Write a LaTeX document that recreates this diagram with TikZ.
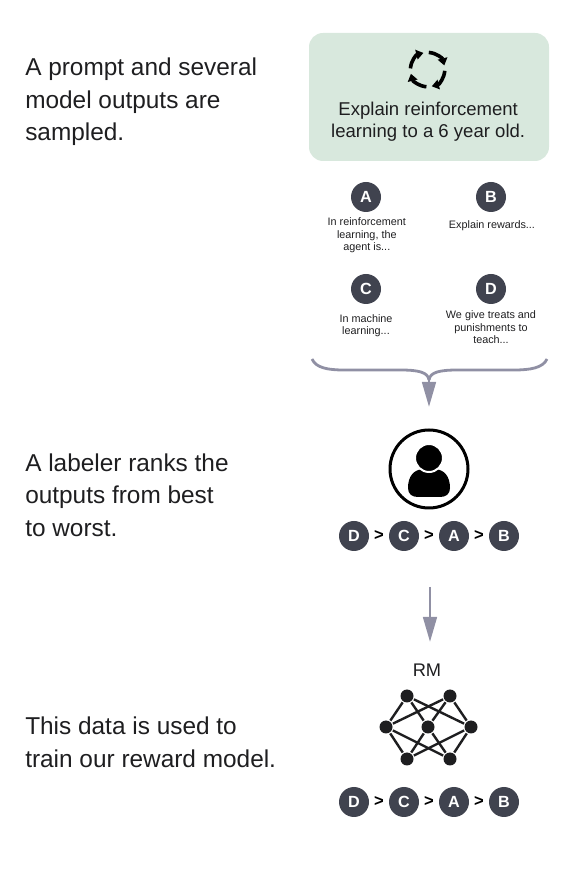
\documentclass[tikz,border=0pt]{standalone}
\usepackage{fontspec}
\setmainfont{Liberation Sans}
\usetikzlibrary{arrows.meta}
\definecolor{promptgreen}{HTML}{D8E8DD}
\definecolor{badgegray}{HTML}{40434F}
\definecolor{flowgray}{HTML}{9090A4}
\definecolor{inkblack}{HTML}{1E1E20}
\begin{document}
\begin{tikzpicture}[
  sidetext/.style={
    anchor=west, align=left, text=inkblack, inner sep=0pt,
    font=\fontsize{17.35}{23}\selectfont
  },
  promptbox/.style={
    fill=promptgreen, rounded corners=0.35cm,
    minimum width=6cm, minimum height=3.2cm
  },
  prompttext/.style={
    align=center, text=inkblack, inner sep=0pt,
    font=\fontsize{13.2}{15.6}\selectfont
  },
  badge/.style={
    circle, fill=badgegray, minimum size=0.75cm, inner sep=0pt,
    text=white, font=\fontsize{11.5}{12}\selectfont\bfseries
  },
  outtext/.style={
    align=center, text=inkblack, inner sep=0pt,
    font=\fontsize{7.7}{8.9}\selectfont
  },
  gtsign/.style={inner sep=0pt, text=black, font=\fontsize{11.8}{13}\selectfont\bfseries},
  neuron/.style={circle, fill=inkblack, minimum size=0.325cm, inner sep=0pt, outer sep=0.03cm},
  synapse/.style={inkblack, line width=0.06cm},
  cyclearr/.style={-{Stealth[length=0.18cm,width=0.24cm,inset=0pt]}, black, line width=0.09cm},
  flowline/.style={flowgray, line width=0.07cm},
  flowarr/.style={flowline, -{Triangle[length=0.625cm,width=0.34cm]}},
]
\useasboundingbox (0,0) rectangle (14.4,21.9);
% left column
\node[sidetext] (step1) at (0.625, 19.35) {A prompt and several\\model outputs are\\sampled.};
\node[sidetext] (step2) at (0.625, 9.525) {A labeler ranks the\\outputs from best\\to worst.};
\node[sidetext] (step3) at (0.625, 3.34) {This data is used to\\train our reward model.};
% prompt
\node[promptbox] (prompt) at (10.725, 19.475) {};
\coordinate (icon) at (10.69, 20.16);
\foreach \a in {0,90,180,270} {
  \draw[cyclearr] ([shift={(\a+86:0.43cm)}]icon) arc[start angle=\a+86, end angle=\a+14, radius=0.43cm];
}
\node[prompttext] (ptext) at (10.705, 18.865) {Explain reinforcement\\learning to a 6 year old.};
% sampled outputs
\node[badge] (a) at (9.15, 16.975) {A};
\node[badge] (b) at (12.275, 16.975) {B};
\node[badge] (c) at (9.15, 14.675) {C};
\node[badge] (d) at (12.275, 14.675) {D};
\node[outtext] (atext) at (9.17, 16.01) {In reinforcement\\learning, the\\agent is...};
\node[outtext] (btext) at (12.3, 16.25) {Explain rewards...};
\node[outtext] (ctext) at (9.15, 13.76) {In machine\\learning...};
\node[outtext] (dtext) at (12.275, 13.71) {We give treats and\\punishments to\\teach...};
% brace
\coordinate (braceL) at (7.8, 12.925);
\coordinate (braceR) at (13.675, 12.925);
\coordinate (join) at (10.725, 12.4);
\coordinate (tip1) at (10.725, 11.725);
\draw[flowline] (braceL) .. controls (7.9, 12.7) and (8.2, 12.65) .. (8.6, 12.65)
  -- (10.0, 12.65) .. controls (10.45, 12.65) and (10.7, 12.6) .. (join);
\draw[flowline] (braceR) .. controls (13.575, 12.7) and (13.25, 12.65) .. (12.85, 12.65)
  -- (11.45, 12.65) .. controls (11.0, 12.65) and (10.75, 12.6) .. (join);
\draw[flowarr] (join) -- (tip1);
% labeler
\node[circle, draw=black, line width=0.075cm, minimum size=1.95cm] (labeler) at (10.725, 10.175) {};
\fill[black] (10.2, 9.7) .. controls (10.2, 10.0) and (10.35, 10.15) .. (10.55, 10.17)
  -- (10.9, 10.17) .. controls (11.1, 10.15) and (11.25, 10.0) .. (11.25, 9.7)
  .. controls (11.25, 9.55) and (11.15, 9.475) .. (11.0, 9.475)
  -- (10.45, 9.475) .. controls (10.3, 9.475) and (10.2, 9.55) .. (10.2, 9.7) -- cycle;
\node[circle, fill=black, draw=white, line width=0.05cm, minimum size=0.7cm, inner sep=0pt] (head) at (10.725, 10.45) {};
% rankings
\foreach \row/\y in {upper/8.5, lower/1.85} {
  \node[badge] (\row d) at (8.85, \y) {D};
  \node[badge] (\row c) at (10.1, \y) {C};
  \node[badge] (\row a) at (11.35, \y) {A};
  \node[badge] (\row b) at (12.6, \y) {B};
  \node[gtsign] (\row g1) at (9.475, \y) {>};
  \node[gtsign] (\row g2) at (10.725, \y) {>};
  \node[gtsign] (\row g3) at (11.975, \y) {>};
}
\coordinate (start2) at (10.75, 7.225);
\coordinate (tip2) at (10.75, 5.85);
\draw[flowarr] (start2) -- (tip2);
% reward model
\node[font=\fontsize{13}{15}\selectfont, text=inkblack, inner sep=0pt] (rm) at (10.675, 5.15) {RM};
\node[neuron] (t1) at (10.175, 4.5) {};
\node[neuron] (t2) at (11.25, 4.5) {};
\node[neuron] (m1) at (9.65, 3.725) {};
\node[neuron] (m2) at (10.7, 3.725) {};
\node[neuron] (m3) at (11.775, 3.725) {};
\node[neuron] (b1) at (10.175, 2.925) {};
\node[neuron] (b2) at (11.25, 2.925) {};
\foreach \s in {t1,t2,b1,b2} {
  \foreach \m in {m1,m2,m3} {
    \draw[synapse] (\s) -- (\m);
  }
}
\end{tikzpicture}
\end{document}
